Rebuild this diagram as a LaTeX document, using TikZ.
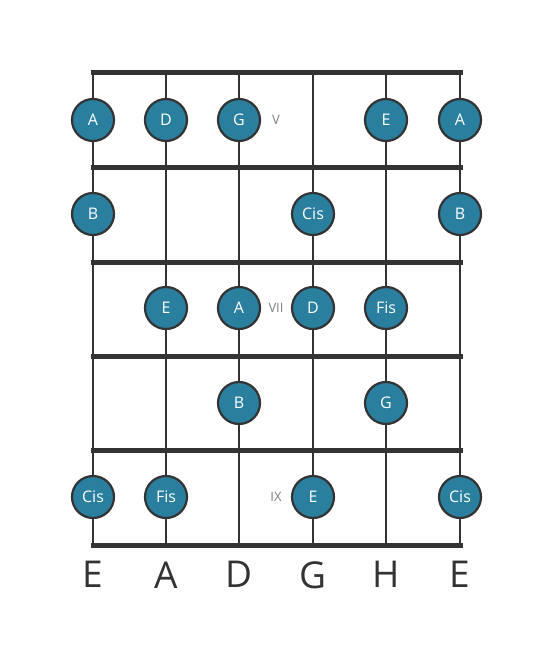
\documentclass[tikz,border=0pt]{standalone}
\usepackage{fontspec}
\setmainfont{Open Sans}
\usetikzlibrary{positioning}
\definecolor{notefill}{RGB}{42,127,158}
\definecolor{linegray}{RGB}{51,51,51}
\tikzset{
  note/.style={circle, draw=linegray, line width=2.2pt, fill=notefill,
    minimum size=42pt, inner sep=0pt, text=white, font=\fontsize{16}{16}\selectfont},
  fretnum/.style={text=gray, font=\fontsize{13}{13}\selectfont},
  stringname/.style={text=linegray, font=\fontsize{37}{37}\selectfont}
}
\begin{document}
\begin{tikzpicture}[x=1pt, y=-1pt]
    \useasboundingbox (0,0) rectangle (553,656);

    % Strings
    \foreach \i/\s in {1/93,2/166,3/239,4/313,5/386,6/460}
      \draw[linegray, line width=2.5pt] (\s,72) -- (\s,545) coordinate (s\i);

    % Frets
    \foreach \f in {72,167,262,356,450,545}
      \draw[linegray, line width=5pt] (90.5,\f) -- (462.5,\f);

    % Fret numbers
    \node[fretnum] (fV) at (276,120) {V};
    \node[fretnum] (fVII) at (276,308) {VII};
    \node[fretnum] (fIX) at (276,497) {IX};

    % Notes
    \node[note] (n1a) at (93,120) {A};
    \node[note] (n1b) at (166,120) {D};
    \node[note] (n1c) at (239,120) {G};
    \node[note] (n1d) at (386,120) {E};
    \node[note] (n1e) at (460,120) {A};

    \node[note] (n2a) at (93,214) {B};
    \node[note] (n2b) at (313,214) {Cis};
    \node[note] (n2c) at (460,214) {B};

    \node[note] (n3a) at (166,308) {E};
    \node[note] (n3b) at (239,308) {A};
    \node[note] (n3c) at (313,308) {D};
    \node[note] (n3d) at (386,308) {Fis};

    \node[note] (n4a) at (239,403) {B};
    \node[note] (n4b) at (386,403) {G};

    \node[note] (n5a) at (93,497) {Cis};
    \node[note] (n5b) at (166,497) {Fis};
    \node[note] (n5c) at (313,497) {E};
    \node[note] (n5d) at (460,497) {Cis};

    % String names
    \foreach \i/\n in {1/E,2/A,3/D,4/G,5/H,6/E}
      \node[stringname, below=13pt of s\i] (name\i) {\n};
\end{tikzpicture}
\end{document}
